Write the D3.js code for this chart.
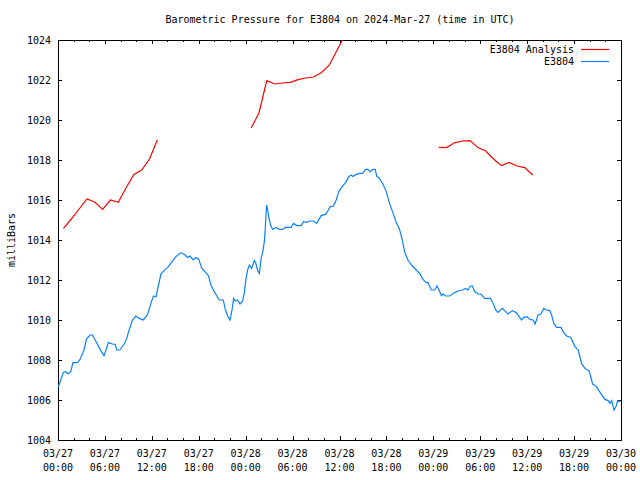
<!DOCTYPE html>
<html><head><meta charset="utf-8">
<script src="https://cdn.jsdelivr.net/npm/d3@7"></script>
<style>
body{margin:0;background:#fff}
text{font-family:"DejaVu Sans Mono",monospace;font-size:10px;fill:#000}
</style>
</head><body><svg id="c" width="640" height="480"></svg>
<script>
const title = "Barometric Pressure for E3804 on 2024-Mar-27 (time in UTC)";
const yLabel = "milliBars";
const seriesNames = ["E3804 Analysis", "E3804"];
const seriesColors = ["#ff0000", "#0a80ff"];
const yTicks = [1004, 1006, 1008, 1010, 1012, 1014, 1016, 1018, 1020, 1022, 1024];
const startUTC = Date.UTC(2024, 2, 27, 0, 0);
const endUTC = Date.UTC(2024, 2, 30, 0, 0);

// Analysis (hours after 03/27 00:00 UTC), null marks a gap
const analysisHours = [0.7,1.7,2.7,3.7,4.7,5.7,6.7,7.7,8.7,9.7,10.7,11.7,12.7, null,
  24.7,25.7,26.7,27.7,28.7,29.7,30.7,31.7,32.7,33.7,34.7,35.7,36.7, null,
  48.7,49.7,50.7,51.7,52.7,53.7,54.7,55.7,56.7,57.7,58.7,59.7,60.7];
const analysisPressure = [1014.58,1015.05,1015.55,1016.05,1015.9,1015.53,1016.0,1015.88,1016.6,1017.28,1017.5,1018.05,1019.0, null,
  1019.6,1020.35,1021.97,1021.8,1021.85,1021.88,1022.02,1022.1,1022.15,1022.38,1022.75,1023.5,1024.25, null,
  1018.63,1018.62,1018.86,1018.95,1018.97,1018.62,1018.45,1018.05,1017.72,1017.88,1017.7,1017.62,1017.25];

// Station observations
const stationHours = [0.0,0.13,0.68,0.99,1.28,1.63,1.92,2.47,2.82,3.33,3.63,4.10,4.39,4.83,5.47,5.89,6.44,6.96,7.30,7.52,7.90,8.46,8.75,9.10,9.52,9.95,10.38,10.89,11.44,11.88,12.21,12.52,12.72,13.16,13.71,14.13,14.57,15.08,15.72,16.27,16.56,16.87,17.29,17.64,17.97,18.41,18.92,19.25,19.56,19.98,20.63,21.14,21.36,21.69,22.0,22.25,22.46,22.67,22.97,23.28,23.61,23.83,24.05,24.25,24.47,24.76,25.11,25.33,25.53,25.75,25.97,26.17,26.39,26.48,26.68,26.81,27.03,27.25,27.45,27.89,28.31,28.73,29.08,29.81,30.11,30.53,31.09,31.39,31.81,32.16,32.67,33.09,33.65,34.20,34.50,34.81,35.23,35.58,35.91,36.34,36.77,37.19,37.50,37.70,38.14,38.56,38.98,39.33,39.62,39.93,40.26,40.57,40.78,41.03,41.55,41.98,42.40,42.83,43.26,43.68,44.03,44.32,44.75,45.31,45.82,46.34,46.67,47.11,47.31,47.75,48.17,48.46,48.72,49.03,49.23,49.58,50.09,50.73,51.15,51.72,52.14,52.43,52.74,53.0,53.29,53.72,54.06,54.57,55.30,55.64,55.98,56.28,56.84,57.26,57.56,58.12,58.63,58.97,59.28,59.57,59.99,60.34,60.76,61.02,61.40,61.75,62.13,62.48,62.90,63.12,63.41,63.76,64.31,64.69,65.04,65.59,66.10,66.53,66.96,67.38,67.93,68.37,68.88,69.40,69.95,70.37,70.59,70.81,71.10,71.36,71.57,71.87];
const stationPressure = [1006.65,1006.75,1007.38,1007.42,1007.3,1007.42,1007.87,1007.87,1008.03,1008.5,1009.05,1009.25,1009.25,1008.95,1008.47,1008.22,1008.87,1008.8,1008.78,1008.5,1008.5,1008.8,1009.03,1009.5,1010.0,1010.2,1010.08,1010.0,1010.25,1010.83,1011.2,1011.15,1011.5,1012.3,1012.53,1012.67,1012.92,1013.17,1013.37,1013.25,1013.13,1013.2,1013.0,1013.12,1013.05,1012.58,1012.37,1012.2,1011.75,1011.42,1011.0,1011.0,1010.58,1010.2,1010.0,1010.5,1011.08,1010.95,1011.0,1010.8,1010.95,1011.37,1012.08,1012.5,1012.75,1012.58,1012.97,1012.8,1012.47,1012.33,1013.08,1013.37,1013.92,1014.42,1015.75,1015.5,1015.0,1014.67,1014.53,1014.63,1014.53,1014.53,1014.63,1014.63,1014.83,1014.72,1014.72,1014.92,1014.88,1014.95,1014.95,1014.83,1015.22,1015.28,1015.45,1015.67,1015.7,1016.0,1016.42,1016.67,1016.87,1017.17,1017.25,1017.17,1017.28,1017.33,1017.33,1017.53,1017.53,1017.42,1017.53,1017.53,1017.17,1017.12,1016.8,1016.42,1015.83,1015.37,1014.87,1014.53,1014.0,1013.42,1013.0,1012.7,1012.5,1012.28,1012.03,1011.87,1011.87,1011.5,1011.5,1011.7,1011.5,1011.22,1011.3,1011.2,1011.2,1011.37,1011.45,1011.5,1011.58,1011.5,1011.7,1011.7,1011.42,1011.3,1011.3,1011.08,1011.08,1010.83,1010.5,1010.38,1010.58,1010.42,1010.3,1010.47,1010.37,1010.17,1010.0,1010.13,1010.17,1010.03,1010.0,1009.8,1010.25,1010.3,1010.58,1010.5,1010.47,1010.25,1009.83,1009.63,1009.63,1009.37,1009.2,1009.13,1008.67,1008.5,1007.83,1007.58,1007.45,1006.8,1006.67,1006.33,1006.03,1005.97,1005.83,1005.97,1005.5,1005.67,1005.97,1005.92];

const svg = d3.select("#c");
const L = 58, R = 621, T = 40, B = 440;
const x = d3.scaleUtc().domain([new Date(startUTC), new Date(endUTC)]).range([L, R]);
const y = d3.scaleLinear().domain([1004, 1024]).range([B, T]);
const toDate = h => new Date(startUTC + h * 3600e3);

svg.append("rect").attr("width", 640).attr("height", 480).attr("fill", "#fff");

const majorTicks = d3.utcHour.every(6);
const minorTicks = d3.utcHour.every(2);

function noDomain(g){ g.select(".domain").remove(); g.selectAll("line").attr("stroke","#000").attr("shape-rendering","crispEdges"); }

svg.append("g").attr("transform", `translate(0,${B})`)
  .call(d3.axisBottom(x).ticks(minorTicks).tickSize(-2).tickFormat("")).call(noDomain);
svg.append("g").attr("transform", `translate(0,${B})`)
  .call(d3.axisBottom(x).ticks(majorTicks).tickSize(-4).tickFormat("")).call(noDomain);
svg.append("g").attr("transform", `translate(0,${T})`)
  .call(d3.axisTop(x).ticks(minorTicks).tickSize(-2).tickFormat("")).call(noDomain);
svg.append("g").attr("transform", `translate(0,${T})`)
  .call(d3.axisTop(x).ticks(majorTicks).tickSize(-4).tickFormat("")).call(noDomain);

const gl = svg.append("g").attr("transform", `translate(${L},0)`)
  .call(d3.axisLeft(y).tickValues(yTicks).tickSize(-4).tickPadding(7).tickFormat(d3.format("d"))).call(noDomain);
gl.selectAll("text").attr("fill","#000").style("font-size","10px").style("font-family",'"DejaVu Sans Mono",monospace');
svg.append("g").attr("transform", `translate(${R},0)`)
  .call(d3.axisRight(y).tickValues(yTicks).tickSize(-4).tickFormat("")).call(noDomain);

// x tick labels (two lines)
const fmtDay = d3.utcFormat("%m/%d"), fmtTime = d3.utcFormat("%H:%M");
const xl = svg.append("g").selectAll("text").data(x.ticks(majorTicks)).join("text")
  .attr("text-anchor", "middle")
  .attr("transform", d => `translate(${x(d)},0)`);
xl.append("tspan").attr("x", 0).attr("y", 457).text(d => fmtDay(d));
xl.append("tspan").attr("x", 0).attr("y", 471).text(d => fmtTime(d));

// frame
svg.append("rect").attr("x", L + 0.5).attr("y", T + 0.5).attr("width", R - L).attr("height", B - T)
  .attr("fill", "none").attr("stroke", "#000").attr("shape-rendering", "crispEdges");

svg.append("clipPath").attr("id", "clip").append("rect")
  .attr("x", L).attr("y", T).attr("width", R - L + 1).attr("height", B - T + 1);

const line = d3.line().defined(d => d[1] != null).x(d => x(toDate(d[0]))).y(d => y(d[1]));
const analysisData = analysisHours.map((h, i) => [h, analysisPressure[i]]);
const stationData = stationHours.map((h, i) => [h, stationPressure[i]]);

svg.append("path").datum(stationData).attr("d", line).attr("fill", "none")
  .attr("stroke", seriesColors[1]).attr("stroke-width", 1.2).attr("clip-path", "url(#clip)");
svg.append("path").datum(analysisData).attr("d", line).attr("fill", "none")
  .attr("stroke", seriesColors[0]).attr("stroke-width", 1.2).attr("clip-path", "url(#clip)");

// legend
seriesNames.forEach((n, i) => {
  const ly = 49.5 + i * 12;
  svg.append("text").attr("x", 574).attr("y", ly + 3.5).attr("text-anchor", "end").text(n);
  svg.append("line").attr("x1", 581).attr("x2", 609).attr("y1", ly).attr("y2", ly)
    .attr("stroke", seriesColors[i]).attr("stroke-width", 1.2);
});

// title & y label
svg.append("text").attr("x", 340).attr("y", 23).attr("text-anchor", "middle").text(title);
svg.append("text").attr("transform", "translate(15,240) rotate(-90)").attr("text-anchor", "middle").text(yLabel);
</script></body></html>
